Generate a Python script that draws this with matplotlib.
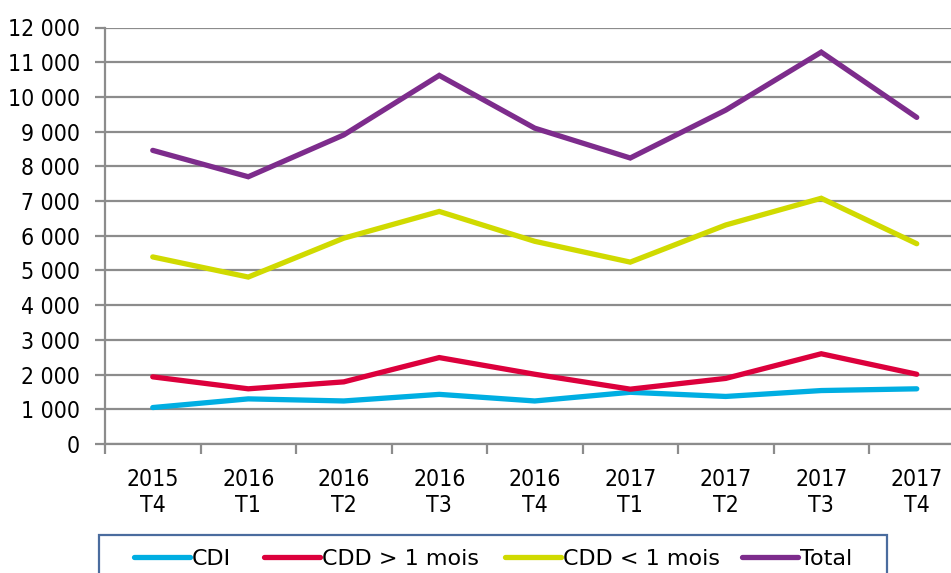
import matplotlib
matplotlib.use("Agg")
import matplotlib.pyplot as plt
from matplotlib.ticker import FuncFormatter, FixedLocator, MultipleLocator
from matplotlib.patches import Rectangle

plt.rcParams['font.family'] = ['DejaVu Sans']
plt.rcParams['font.stretch'] = 'condensed'

categories = ["2015\nT4", "2016\nT1", "2016\nT2", "2016\nT3", "2016\nT4",
              "2017\nT1", "2017\nT2", "2017\nT3", "2017\nT4"]
cdi = [1050, 1300, 1240, 1430, 1240, 1490, 1370, 1540, 1590]
cdd_plus = [1935, 1590, 1790, 2490, 2010, 1580, 1890, 2600, 2010]
cdd_moins = [5390, 4810, 5930, 6700, 5840, 5240, 6310, 7080, 5770]
total = [8460, 7700, 8905, 10620, 9100, 8240, 9620, 11290, 9410]

series = [("CDI", cdi, "#00AEE2"),
          ("CDD > 1 mois", cdd_plus, "#DC003C"),
          ("CDD < 1 mois", cdd_moins, "#D0DA00"),
          ("Total", total, "#7D2C8C")]

W, H = 951, 573
fig = plt.figure(figsize=(W / 100, H / 100), dpi=100)
left, right, bottom, top = 105, 964.5, 444, 27.5
ax = fig.add_axes([left / W, 1 - bottom / H, (right - left) / W, (bottom - top) / H])

x = list(range(len(categories)))
lines = []
for name, vals, col in series:
    ln, = ax.plot(x, vals, color=col, lw=3.8, solid_capstyle='round',
                  solid_joinstyle='miter', label=name, zorder=3)
    lines.append(ln)

ax.set_xlim(-0.5, len(categories) - 0.5)
ax.set_ylim(0, 12000)
ax.yaxis.set_major_locator(MultipleLocator(1000))
ax.yaxis.set_major_formatter(FuncFormatter(lambda v, p: f"{int(v):,}".replace(",", " ")))
ax.grid(axis='y', color='#8C8C8C', lw=1.6, zorder=1)
ax.set_axisbelow(True)

ax.set_xticks(x)
ax.set_xticklabels(categories, fontsize=16.5, linespacing=1.15)
ax.xaxis.set_minor_locator(FixedLocator([i - 0.5 for i in range(len(categories) + 1)]))
ax.tick_params(axis='x', which='major', length=0, pad=17.5)
ax.tick_params(axis='x', which='minor', length=7, width=1.6, color='#8C8C8C')
ax.tick_params(axis='y', length=7, width=1.6, color='#8C8C8C', labelsize=16.5, pad=11)

for s in ['top', 'right']:
    ax.spines[s].set_visible(False)
for s in ['left', 'bottom']:
    ax.spines[s].set_color('#8C8C8C')
    ax.spines[s].set_linewidth(1.6)

# legend frame (extends below the image edge, as in the reference)
fig.patches.append(Rectangle((99 / W, -0.05), (887 - 99) / W, (0.05 + 1 - 535 / H),
                             transform=fig.transFigure, fill=False,
                             edgecolor='#4A6C9E', lw=1.6))
leg_x = [134, 264, 505, 742]
for ln, (name, _, _), lx in zip(lines, series, leg_x):
    lg = fig.legend(handles=[ln], labels=[name], loc='center left',
                    bbox_to_anchor=(lx / W, 1 - 559 / H),
                    prop={'size': 16, 'stretch': 'normal'},
                    handlelength=2.5, handletextpad=0.12,
                    borderpad=0, borderaxespad=0, frameon=False)

fig.savefig("out.png", dpi=100)
